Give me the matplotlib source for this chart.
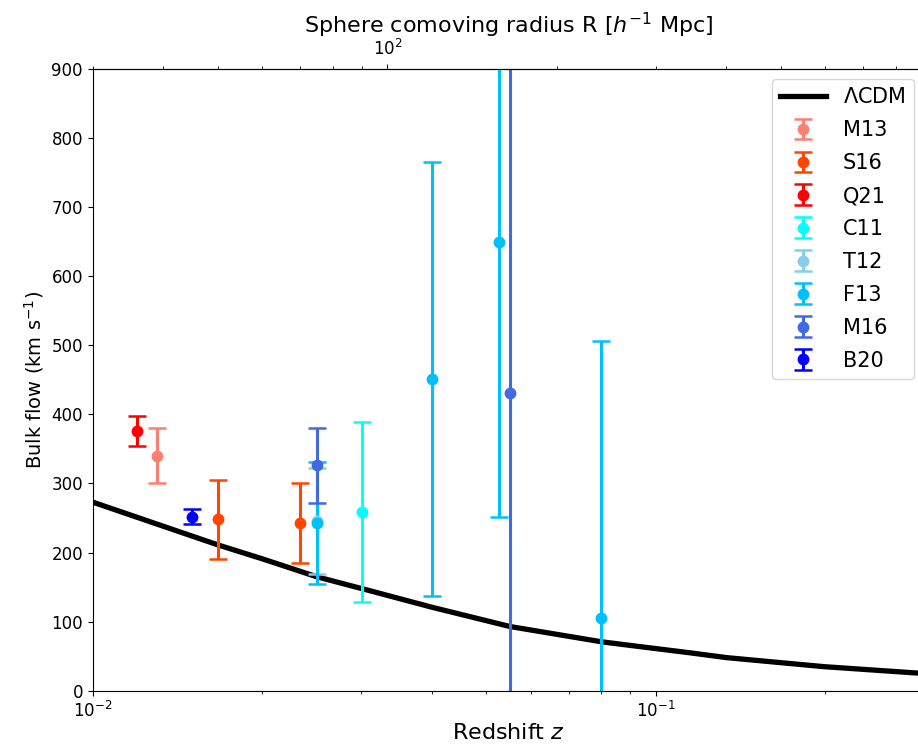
import numpy as np
import matplotlib
matplotlib.use('Agg')
import matplotlib.pyplot as plt

# LCDM expected bulk flow
lcdm_z = [0.01, 0.0125, 0.0167, 0.02, 0.025, 0.031, 0.04, 0.0551,
          0.08, 0.0936, 0.115, 0.1337, 0.1986, 0.3]
lcdm_v = [273, 246, 211, 191, 165, 145, 121, 93,
          71, 64, 55, 48, 35, 25]

# survey measurements: name -> (z, v, err)
names = ['M13', 'S16', 'Q21', 'C11', 'T12', 'F13', 'M16', 'B20']
colors = ['salmon', 'orangered', 'red', 'cyan', 'skyblue', 'deepskyblue',
          'royalblue', 'blue']
z_vals = [[0.0130], [0.0167, 0.0233], [0.0120], [0.0301], [0.0250],
          [0.0250, 0.0400, 0.0526, 0.0800], [0.0250, 0.0551], [0.0150]]
v_vals = [[340], [248, 243], [376], [259], [246],
          [243, 451, 650, 105], [326, 431], [252]]
v_errs = [[40], [57, 58], [22], [130], [77],
          [88, 314, 398, 401], [54, 520], [11]]

fig, ax = plt.subplots(figsize=(9.18, 7.55), dpi=100)
# axes run slightly past the right edge of the picture, as in the original crop
fig.subplots_adjust(left=0.101, right=1.007, top=0.909, bottom=0.085)

ax.plot(lcdm_z, lcdm_v, color='black', linewidth=3.8, label=r'$\Lambda$CDM')

for name, c, zs, vs, es in zip(names, colors, z_vals, v_vals, v_errs):
    ax.errorbar(zs, vs, yerr=es, fmt='o', color=c, markersize=7.5,
                elinewidth=2.2, capsize=6.5, capthick=1.8, label=name)

ax.set_xscale('log')
ax.set_xlim(0.01, 0.3)
ax.set_ylim(0, 900)
ax.set_xlabel('Redshift $z$', fontsize=16, labelpad=2)
ax.set_ylabel(r'Bulk flow (km s$^{-1}$)', fontsize=14)
ax.tick_params(labelsize=12)

top = ax.secondary_xaxis('top', functions=(lambda z: 2998 * z, lambda r: r / 2998))
top.set_xlabel(r'Sphere comoving radius R [$h^{-1}$ Mpc]', fontsize=16)
top.tick_params(labelsize=12)

ax.legend(loc='upper right', fontsize=15, labelspacing=0.62, handlelength=2.2)

plt.savefig('out.png', dpi=100)
